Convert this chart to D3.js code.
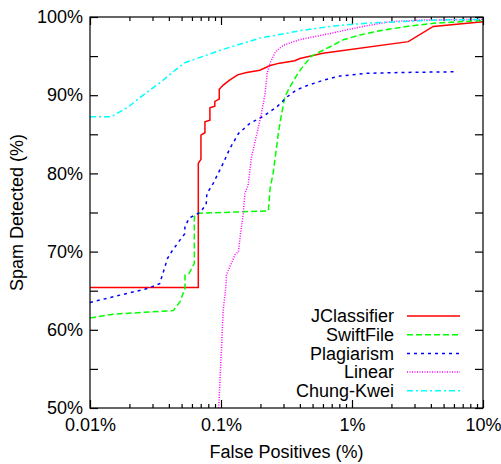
<!DOCTYPE html>
<html>
<head>
<meta charset="utf-8">
<script src="https://cdn.jsdelivr.net/npm/d3@7"></script>
<style>
  body { margin: 0; background: #fff; }
  text { font-family: "Liberation Sans", Arial, sans-serif; }
</style>
</head>
<body>
<div id="chart"></div>
<script>
// [false positive %, spam detected %]
const jclassifier = [
  [0.01, 65.4], [0.0671, 65.4], [0.0671, 81.3], [0.0703, 81.8], [0.0703, 84.9],
  [0.0754, 85.2], [0.0754, 86.6], [0.0823, 86.8], [0.0823, 88.4], [0.0897, 88.6],
  [0.0897, 89.2], [0.097, 89.5], [0.097, 90.75], [0.104, 91.3], [0.117, 91.95],
  [0.134, 92.6], [0.157, 92.9], [0.198, 93.2], [0.237, 93.8], [0.28, 94.1],
  [0.366, 94.4], [0.40, 94.7], [0.60, 95.35], [2.69, 96.85], [4.17, 98.8], [10, 99.4]
];
const swiftfile = [
  [0.01, 61.5], [0.015, 62.0], [0.0432, 62.45], [0.0487, 63.6], [0.0531, 65.3],
  [0.0531, 67.0], [0.057, 67.2], [0.0626, 68.5], [0.0626, 74.5], [0.0671, 74.9],
  [0.23, 75.2], [0.237, 78.1], [0.25, 80.0], [0.274, 85.1], [0.283, 86.6],
  [0.307, 89.8], [0.337, 91.1], [0.38, 92.6], [0.41, 93.4], [0.49, 95.0],
  [0.68, 96.2], [0.86, 97.1], [1.15, 97.7], [1.63, 98.25], [2.77, 98.85],
  [4.2, 99.2], [10, 99.55]
];
const plagiarism = [
  [0.01, 63.5], [0.0278, 65.3], [0.034, 65.9], [0.036, 67.2], [0.039, 69.1],
  [0.042, 70.0], [0.0487, 71.5], [0.053, 72.3], [0.053, 73.2], [0.0573, 74.3],
  [0.069, 75.0], [0.077, 76.0], [0.078, 77.4], [0.087, 78.7], [0.104, 81.3],
  [0.117, 83.2], [0.136, 85.1], [0.166, 86.4], [0.21, 87.3], [0.267, 88.5],
  [0.32, 89.8], [0.38, 90.7], [0.45, 91.2], [0.6, 91.9], [0.81, 92.45],
  [1.29, 92.8], [2.32, 92.9], [6.3, 93.0]
];
const linear = [
  [0.096, 50], [0.101, 57.8], [0.104, 62.5], [0.109, 65.5], [0.110, 67.0],
  [0.117, 68.1], [0.128, 69.6], [0.136, 70.0], [0.141, 72.3], [0.148, 74.9],
  [0.152, 77.4], [0.161, 78.5], [0.171, 82.1], [0.188, 85.1], [0.204, 87.7],
  [0.217, 90.2], [0.225, 92.8], [0.237, 94.1], [0.26, 95.5], [0.28, 96.0],
  [0.30, 96.4], [0.40, 97.1], [0.68, 97.9], [1.22, 98.8], [1.95, 99.4],
  [3.3, 99.6], [10, 99.7]
];
const chungKwei = [
  [0.01, 87.25], [0.0146, 87.25], [0.0196, 88.5], [0.0263, 90.2], [0.0352, 91.75],
  [0.0446, 93.2], [0.053, 94.15], [0.071, 94.9], [0.101, 95.8], [0.198, 97.3],
  [0.337, 98.0], [0.40, 98.25], [0.72, 98.85], [1.29, 99.2], [2.32, 99.4],
  [4.2, 99.6], [10, 99.7]
];

const seriesNames = ["JClassifier", "SwiftFile", "Plagiarism", "Linear", "Chung-Kwei"];
const seriesData = [jclassifier, swiftfile, plagiarism, linear, chungKwei];
const seriesColors = ["#ff0000", "#00ff00", "#0000ff", "#ff00ff", "#00ffff"];
const seriesDash = [null, "6,3", "3,4", "1,1.5", "6,3,2,3"];

const xTicks = [0.01, 0.1, 1, 10];
const xTickLabels = ["0.01%", "0.1%", "1%", "10%"];
const yTicks = [50, 60, 70, 80, 90, 100];
const yTickLabels = ["50%", "60%", "70%", "80%", "90%", "100%"];
const yMinorTicks = [55, 65, 75, 85, 95];

const width = 501;
const height = 464;
const margin = { top: 17, right: 18, bottom: 56, left: 90 };

const svg = d3.select("#chart")
  .append("svg")
  .attr("width", width)
  .attr("height", height);

const x = d3.scaleLog()
  .domain([0.01, 10])
  .range([margin.left, width - margin.right]);

const y = d3.scaleLinear()
  .domain([50, 100])
  .range([height - margin.top - margin.bottom + margin.top, margin.top]);

// minor ticks on the log axis: 2..9 in every decade
const xMinor = [];
for (let d = 0.01; d < 10; d *= 10) {
  for (let k = 2; k <= 9; k++) xMinor.push(d * k);
}

const bottomY = y(50);
const topY = y(100);

function styleAxis(g) {
  g.select(".domain").remove();
  g.selectAll("line").attr("stroke", "#000").attr("stroke-width", 1.2);
  g.selectAll("text")
    .attr("fill", "#000")
    .style("font-size", "18px")
    .style("font-family", "'Liberation Sans', Arial, sans-serif");
}

// bottom axis, labels + inward ticks
svg.append("g")
  .attr("transform", `translate(0,${bottomY})`)
  .call(d3.axisBottom(x).tickValues(xTicks)
    .tickFormat((d, i) => xTickLabels[i])
    .tickSizeInner(-8).tickSizeOuter(0).tickPadding(10))
  .call(styleAxis);
svg.append("g")
  .attr("transform", `translate(0,${bottomY})`)
  .call(d3.axisBottom(x).tickValues(xMinor).tickFormat("")
    .tickSizeInner(-4).tickSizeOuter(0))
  .call(styleAxis);

// top axis mirror ticks
svg.append("g")
  .attr("transform", `translate(0,${topY})`)
  .call(d3.axisTop(x).tickValues(xTicks).tickFormat("")
    .tickSizeInner(-8).tickSizeOuter(0))
  .call(styleAxis);
svg.append("g")
  .attr("transform", `translate(0,${topY})`)
  .call(d3.axisTop(x).tickValues(xMinor).tickFormat("")
    .tickSizeInner(-4).tickSizeOuter(0))
  .call(styleAxis);

// left axis
svg.append("g")
  .attr("transform", `translate(${margin.left},0)`)
  .call(d3.axisLeft(y).tickValues(yTicks)
    .tickFormat((d, i) => yTickLabels[i])
    .tickSizeInner(-8).tickSizeOuter(0).tickPadding(7))
  .call(styleAxis);
svg.append("g")
  .attr("transform", `translate(${margin.left},0)`)
  .call(d3.axisLeft(y).tickValues(yMinorTicks).tickFormat("")
    .tickSizeInner(-8).tickSizeOuter(0))
  .call(styleAxis);

// right axis mirror
svg.append("g")
  .attr("transform", `translate(${width - margin.right},0)`)
  .call(d3.axisRight(y).tickValues(yTicks.concat(yMinorTicks)).tickFormat("")
    .tickSizeInner(-8).tickSizeOuter(0))
  .call(styleAxis);

// series
const line = d3.line()
  .x(d => x(d[0]))
  .y(d => y(d[1]));

const plot = svg.append("g");
seriesData.forEach((data, i) => {
  plot.append("path")
    .datum(data)
    .attr("d", line)
    .attr("fill", "none")
    .attr("stroke", seriesColors[i])
    .attr("stroke-width", 1.5)
    .attr("stroke-dasharray", seriesDash[i]);
});

// frame
svg.append("rect")
  .attr("x", margin.left)
  .attr("y", topY)
  .attr("width", width - margin.right - margin.left)
  .attr("height", bottomY - topY)
  .attr("fill", "none")
  .attr("stroke", "#000")
  .attr("stroke-width", 1.2);

// legend
const legend = svg.append("g");
seriesNames.forEach((name, i) => {
  const ly = 316 + i * 18.7;
  legend.append("text")
    .attr("x", 394)
    .attr("y", ly)
    .attr("dy", "0.35em")
    .attr("text-anchor", "end")
    .style("font-size", "18px")
    .text(name);
  legend.append("line")
    .attr("x1", 407)
    .attr("x2", 460)
    .attr("y1", ly)
    .attr("y2", ly)
    .attr("stroke", seriesColors[i])
    .attr("stroke-width", 1.5)
    .attr("stroke-dasharray", seriesDash[i]);
});

// axis titles
svg.append("text")
  .attr("x", (margin.left + width - margin.right) / 2)
  .attr("y", 458)
  .attr("text-anchor", "middle")
  .style("font-size", "18px")
  .text("False Positives (%)");

svg.append("text")
  .attr("transform", `translate(23,${(topY + bottomY) / 2}) rotate(-90)`)
  .attr("text-anchor", "middle")
  .style("font-size", "18px")
  .text("Spam Detected (%)");
</script>
</body>
</html>
